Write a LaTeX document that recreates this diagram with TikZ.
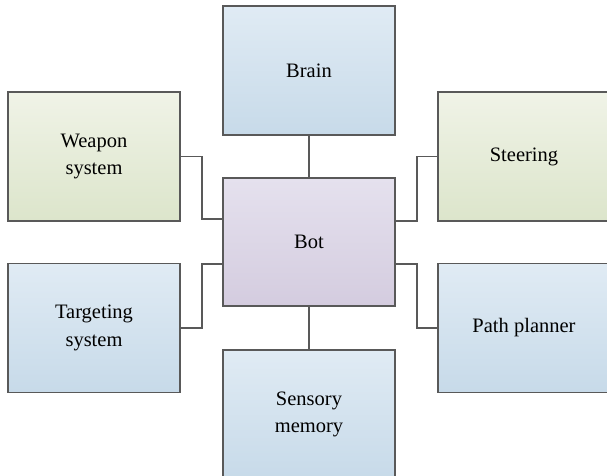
\documentclass[tikz,border=0pt]{standalone}
\usepackage{fontspec}
\setmainfont{Liberation Serif}
\usetikzlibrary{calc}
\definecolor{edgegray}{HTML}{595959}
\definecolor{bluetop}{HTML}{E0EBF4}
\definecolor{bluebot}{HTML}{C7DAE9}
\definecolor{greentop}{HTML}{F0F3E7}
\definecolor{greenbot}{HTML}{DCE5CB}
\definecolor{lilactop}{HTML}{E5E1EE}
\definecolor{lilacbot}{HTML}{D4CCDF}
\tikzset{
  box/.style={rectangle, draw=edgegray, line width=1.2pt, minimum width=172pt,
    minimum height=129pt, inner sep=0pt, outer sep=0pt, align=center,
    font=\fontsize{20.5}{27.5}\selectfont},
  bluebox/.style={box, top color=bluetop, bottom color=bluebot},
  greenbox/.style={box, top color=greentop, bottom color=greenbot},
  lilacbox/.style={box, top color=lilactop, bottom color=lilacbot},
  link/.style={draw=edgegray, line width=1.2pt}
}
\begin{document}
\begin{tikzpicture}[x=1pt, y=-1pt]
  \useasboundingbox (0,0) rectangle (607,475);
  \clip (0,0) rectangle (607,475);
  \fill[white] (0,0) rectangle (607,475);
  % modules around the central bot
  \node[bluebox]  (brain)  at (309,70.5)  {Brain};
  \node[greenbox] (weapon) at (94,156.5)  {Weapon\\system};
  \node[greenbox] (steer)  at (524,156.5) {Steering};
  \node[lilacbox, minimum height=128pt] (bot) at (309,242) {Bot};
  \node[bluebox]  (target) at (94,328)    {Targeting\\system};
  \node[bluebox]  (path)   at (524,328)   {Path planner};
  \node[bluebox]  (sense)  at (309,414.5) {Sensory\\memory};
  % elbow connectors
  \draw[link] (brain) -- (bot);
  \draw[link] (bot) -- (sense);
  \draw[link] (weapon.east) -- ++(22,0) |- ($(bot.north west)+(0,41)$);
  \draw[link] (target.east) -- ++(22,0) |- ($(bot.south west)+(0,-42)$);
  \draw[link] (steer.west) -- ++(-21,0) |- ($(bot.north east)+(0,43)$);
  \draw[link] (path.west) -- ++(-21,0) |- ($(bot.south east)+(0,-42)$);
\end{tikzpicture}
\end{document}
